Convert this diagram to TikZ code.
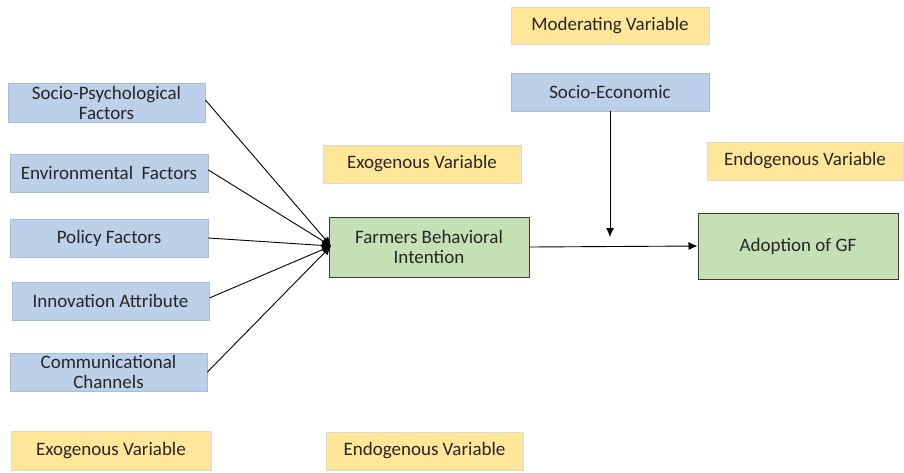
\documentclass[tikz,border=0pt]{standalone}
\usepackage{fontspec}
\setmainfont{Carlito}
\usetikzlibrary{arrows.meta}
\definecolor{bluefill}{HTML}{BDD0E9}
\definecolor{blueline}{HTML}{A8BCD8}
\definecolor{yellowfill}{HTML}{FFE699}
\definecolor{yellowline}{HTML}{D9D9D9}
\definecolor{greenfill}{HTML}{C5E0B4}
\definecolor{greenline}{HTML}{3A3A3A}
\tikzset{
  base/.style={rectangle, inner sep=0pt, align=center, font=\fontsize{19}{20}\selectfont, text=black!85},
  bluebox/.style={base, fill=bluefill, draw=blueline, line width=0.8pt},
  yellowbox/.style={base, fill=yellowfill, draw=yellowline, line width=0.8pt},
  greenbox/.style={base, fill=greenfill, draw=greenline, line width=1pt},
  conn/.style={line width=0.9pt, -{Latex[length=9pt,width=8pt]}},
}
\newcommand{\boxat}[6]{% style, name, x1, y1, x2, y2 ; text follows
  \node[#1, minimum width={(#5)-(#3)}, minimum height={(#6)-(#4)}] (#2) at ({((#3)+(#5))/2},{((#4)+(#6))/2})}
\begin{document}
\begin{tikzpicture}[x=1pt,y=-1pt]
\useasboundingbox (0,0) rectangle (904,472);
\boxat{bluebox}{sp}{8}{83}{205}{122} {Socio-Psychological\\Factors};
\boxat{bluebox}{env}{10}{154}{208}{192} {Environmental\ \ Factors};
\boxat{bluebox}{pol}{10}{219}{208}{257} {Policy Factors};
\boxat{bluebox}{inn}{12}{282}{209}{320} {Innovation Attribute};
\boxat{bluebox}{com}{10}{353}{207}{391} {Communicational\\Channels};
\boxat{yellowbox}{exo1}{11}{431}{211}{470} {Exogenous Variable};
\boxat{yellowbox}{endo1}{326}{432}{523}{470} {Endogenous Variable};
\boxat{yellowbox}{exo2}{323}{145}{521}{183} {Exogenous Variable};
\boxat{yellowbox}{mod}{511}{7}{709}{44} {Moderating Variable};
\boxat{bluebox}{se}{511}{73}{709}{111} {Socio-Economic};
\boxat{yellowbox}{endo2}{707}{142}{903}{180} {Endogenous Variable};
\boxat{greenbox}{fbi}{329}{217}{529}{277} {Farmers Behavioral\\Intention};
\boxat{greenbox}{gf}{698}{213}{898}{279} {Adoption of GF};
\coordinate (tip) at (331,246);
\coordinate (modtip) at (610,237);
\draw[conn] (sp.east |- 0,100) -- (tip);
\draw[conn] (env.east |- 0,170) -- (tip);
\draw[conn] (pol.east |- 0,238) -- (tip);
\draw[conn] (inn.east |- 0,298) -- (tip);
\draw[conn] (com.east |- 0,372) -- (tip);
\draw[conn] (fbi.east |- 0,247) -- (gf.west |- 0,246);
\draw[conn] (se.south -| modtip) -- (modtip);
\end{tikzpicture}
\end{document}
